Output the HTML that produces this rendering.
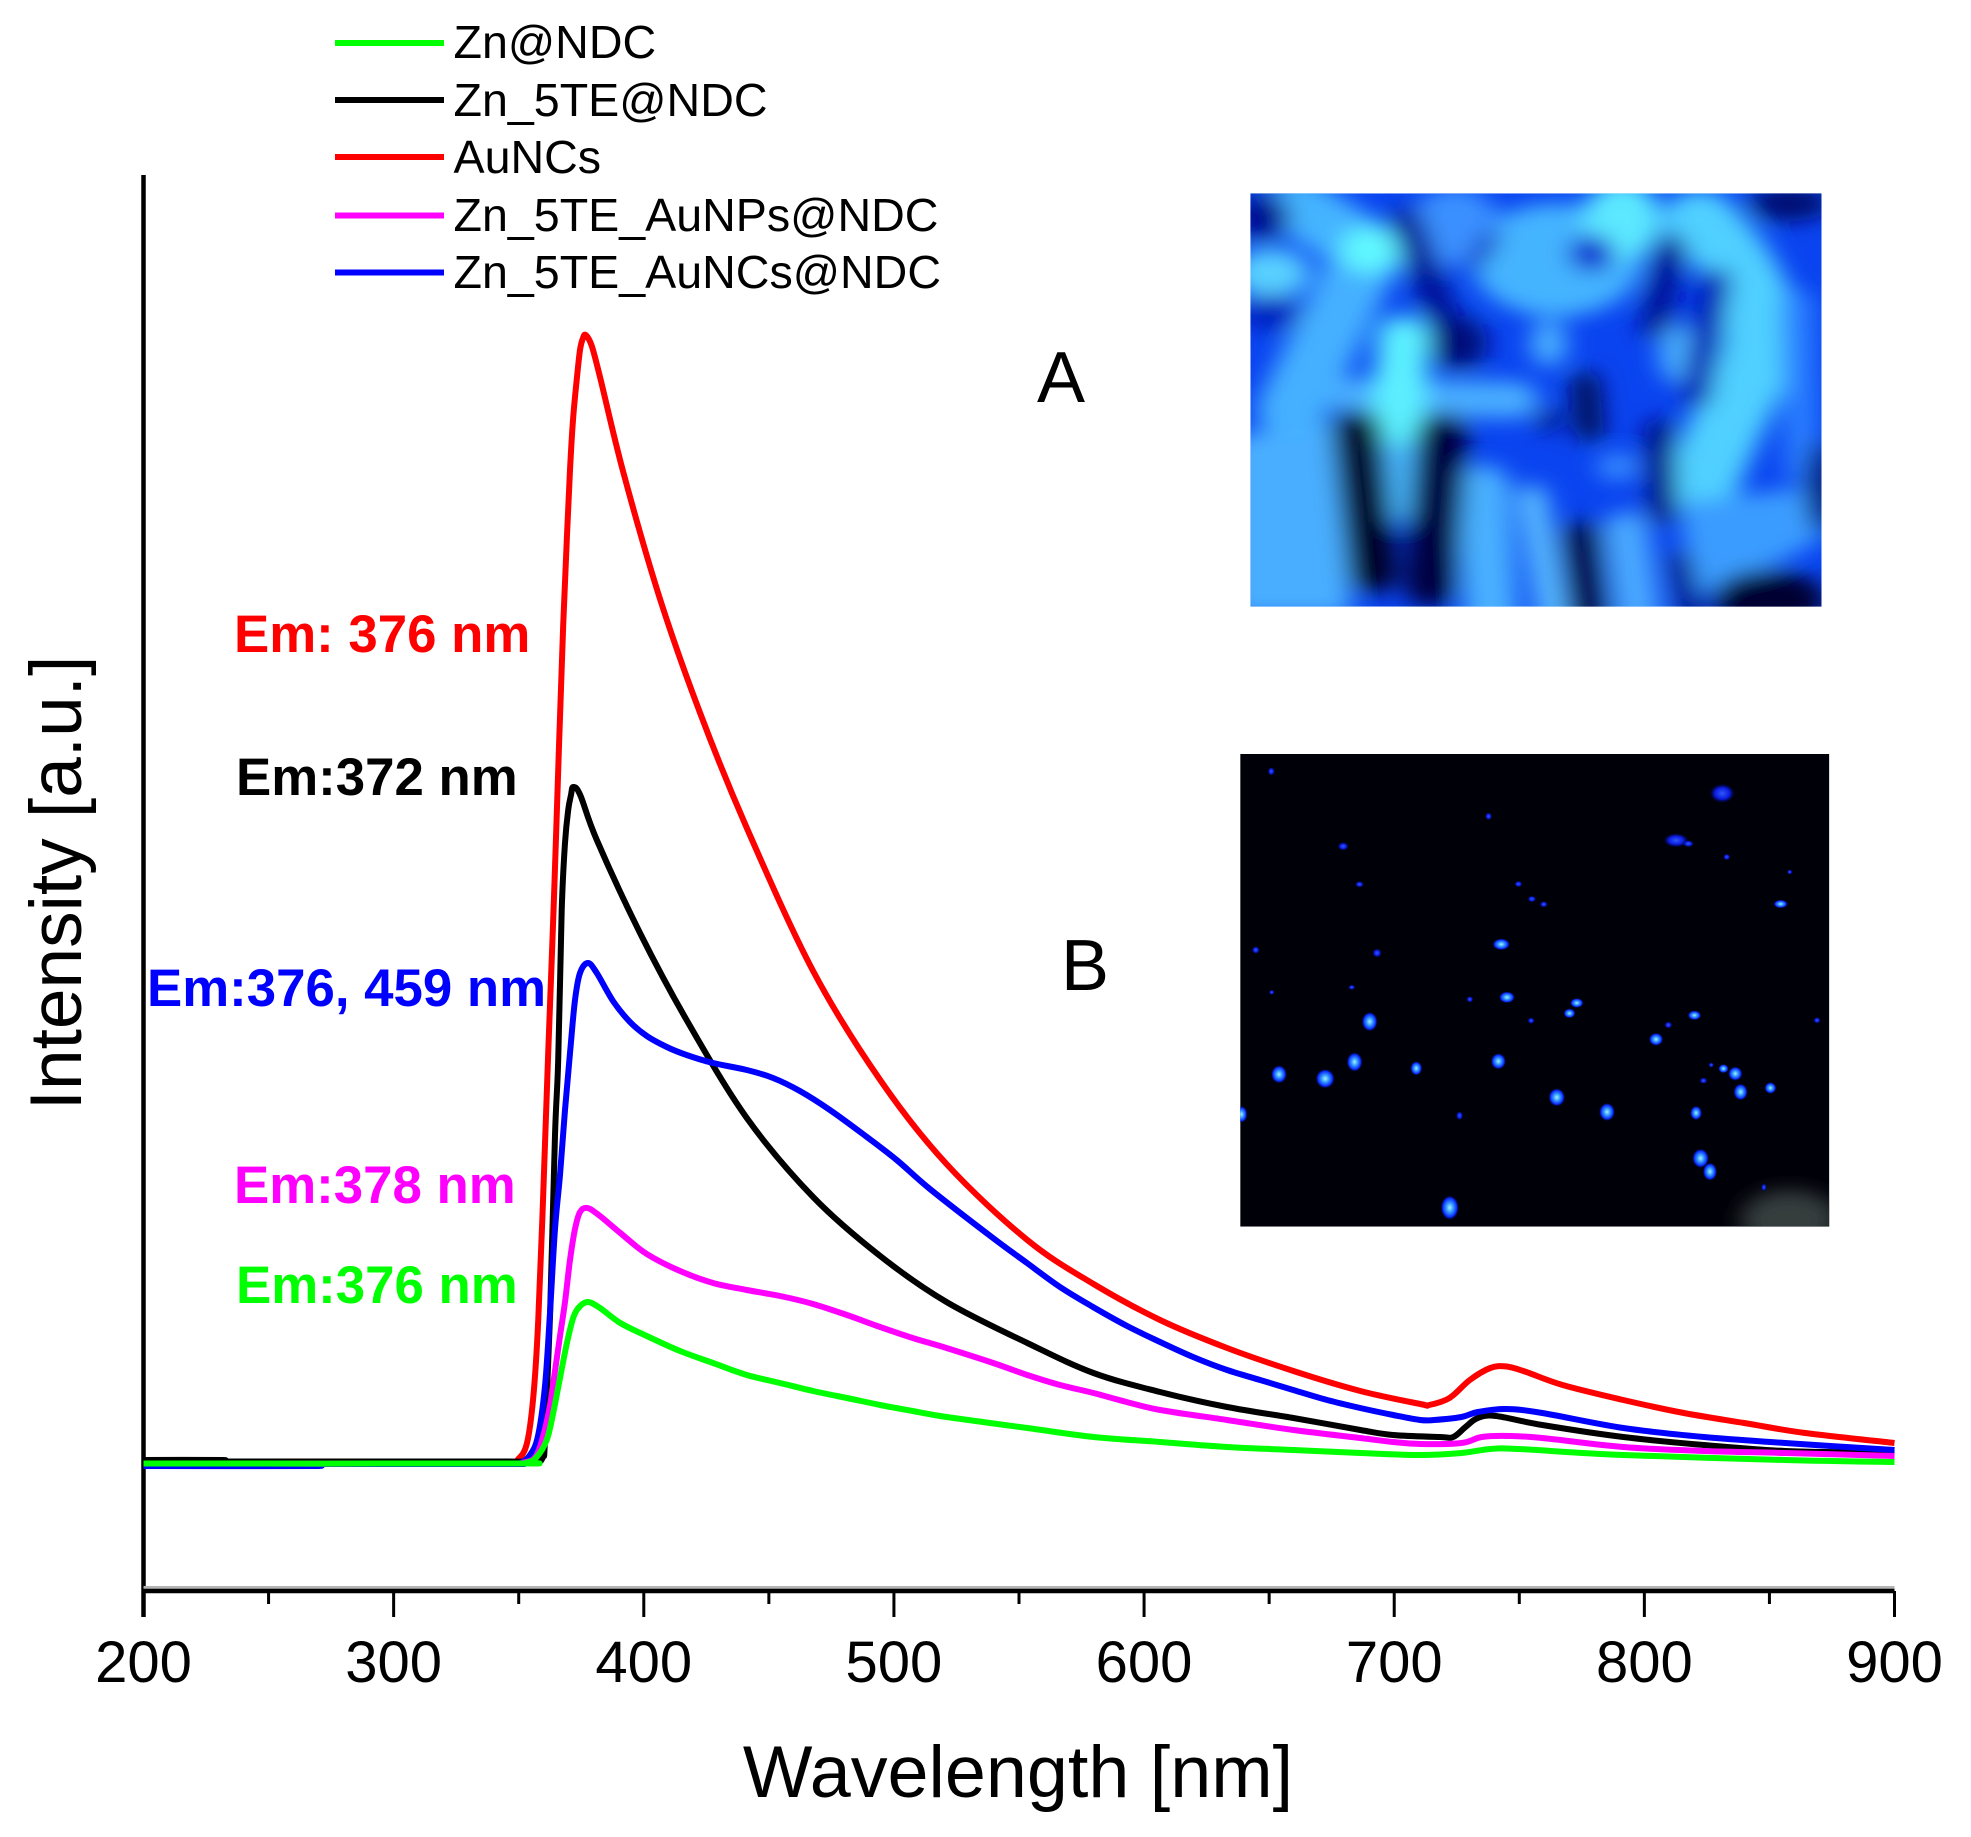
<!DOCTYPE html>
<html lang="en">
<head>
<meta charset="utf-8">
<title>Emission spectra</title>
<style>
html,body{margin:0;padding:0;background:#fff;}
svg{display:block;}
text{font-family:"Liberation Sans",sans-serif;fill:#000;}
.em{font-weight:bold;font-size:52.8px;}
.leg{font-size:46.6px;}
.tick{font-size:58px;text-anchor:middle;}
</style>
</head>
<body>
<svg id="chart" xmlns="http://www.w3.org/2000/svg" width="1971" height="1837" viewBox="0 0 1971 1837">
<defs>
<filter id="blurA" x="-30%" y="-30%" width="160%" height="160%"><feGaussianBlur stdDeviation="30"/></filter>
<filter id="blurB" x="-30%" y="-30%" width="160%" height="160%"><feGaussianBlur stdDeviation="28"/></filter>
<clipPath id="clipA"><rect x="50" y="70" width="1398" height="1240"/></clipPath>
<clipPath id="clipB"><rect x="25" y="42" width="1442" height="1418"/></clipPath>
<radialGradient id="spot"><stop offset="0" stop-color="#a8f0ff"/><stop offset=".35" stop-color="#38a0ff"/><stop offset=".75" stop-color="#0828ff"/><stop offset="1" stop-color="#000030" stop-opacity="0"/></radialGradient>
<radialGradient id="dim"><stop offset="0" stop-color="#3058ff"/><stop offset=".6" stop-color="#0818d8"/><stop offset="1" stop-color="#000030" stop-opacity="0"/></radialGradient>
</defs>
<rect width="1971" height="1837" fill="#fff"/>

<!-- Inset A -->
<g transform="translate(1230 170) scale(.4085 .3333)" clip-path="url(#clipA)">
<rect x="50" y="70" width="1398" height="1240" fill="#0a44f0"/>
<g filter="url(#blurA)" fill="none" stroke-linecap="round">
<polygon points="0,800 250,750 300,1340 0,1340" fill="#48aeff"/>
<path d="M340 240L150 720" stroke="#45b0ff" stroke-width="170"/>
<path d="M170 110L350 250" stroke="#45b4ff" stroke-width="170"/>
<ellipse cx="100" cy="310" rx="95" ry="75" fill="#58d0ff"/>
<ellipse cx="340" cy="240" rx="70" ry="70" fill="#60f8ff"/>
<path d="M300 680L700 690" stroke="#48aeff" stroke-width="110"/>
<ellipse cx="800" cy="270" rx="210" ry="170" fill="#44b4ff"/>
<ellipse cx="960" cy="150" rx="95" ry="120" fill="#5ce8ff"/>
<ellipse cx="550" cy="170" rx="110" ry="120" fill="#3a90ff"/>
<path d="M420 700L410 1000" stroke="#48b8ff" stroke-width="115"/>
<path d="M425 500L410 760" stroke="#5cf0ff" stroke-width="125"/>
<path d="M1150 150Q1350 400 1280 600Q1200 800 1150 950" stroke="#4fd0ff" stroke-width="180"/>
<polygon points="1100,1000 1420,950 1460,1100 1200,1270 1130,1270" fill="#3a9cff"/>
<path d="M1390 400L1400 900" stroke="#2a80ff" stroke-width="80"/>
<ellipse cx="780" cy="520" rx="45" ry="70" fill="#4ab0ff"/>
<ellipse cx="1095" cy="550" rx="45" ry="90" fill="#4ab0ff"/>
<path d="M620 950L640 1340" stroke="#4ab0ff" stroke-width="130"/>
<path d="M740 980L790 1340" stroke="#5cc0ff" stroke-width="70"/>
<path d="M970 1080L1000 1340" stroke="#4aa8ff" stroke-width="110"/>
<ellipse cx="950" cy="890" rx="50" ry="40" fill="#3a90ff"/>
<path d="M310 780L350 1210" stroke="#000028" stroke-width="120"/>
<path d="M520 790L490 1250" stroke="#000440" stroke-width="125"/>
<path d="M430 150L550 530" stroke="#001090" stroke-width="75"/>
<ellipse cx="560" cy="520" rx="70" ry="80" fill="#000c78"/>
<path d="M640 200L600 280" stroke="#0828c0" stroke-width="40"/>
<ellipse cx="885" cy="250" rx="55" ry="55" fill="#0a2ad0"/>
<path d="M1080 230L1040 470" stroke="#001090" stroke-width="70"/>
<path d="M870 640L880 780" stroke="#000858" stroke-width="70"/>
<ellipse cx="780" cy="750" rx="30" ry="35" fill="#001080"/>
<path d="M1050 780L1060 1030" stroke="#001080" stroke-width="70"/>
<path d="M860 1100L880 1340" stroke="#000850" stroke-width="95"/>
<path d="M1100 1170L1130 1340" stroke="#001080" stroke-width="55"/>
<path d="M1190 330L1140 680" stroke="#0018b0" stroke-width="70"/>
<ellipse cx="1370" cy="100" rx="100" ry="55" fill="#000a70"/>
<ellipse cx="1320" cy="1290" rx="140" ry="90" fill="#000030"/>
<ellipse cx="80" cy="140" rx="65" ry="70" fill="#001090"/>
<ellipse cx="1445" cy="950" rx="35" ry="140" fill="#000a70"/>
<ellipse cx="100" cy="430" rx="75" ry="55" fill="#0020c0"/>
</g>
</g>

<!-- Inset B -->
<g transform="translate(1230 740) scale(.4085 .3333)" clip-path="url(#clipB)">
<rect x="25" y="42" width="1442" height="1418" fill="#000008"/>
<ellipse cx="1370" cy="1440" rx="120" ry="90" fill="#343c3e" filter="url(#blurB)"/>
<g fill="url(#spot)">
<ellipse cx="342" cy="845" rx="20" ry="30"/><ellipse cx="305" cy="966" rx="20" ry="30"/><ellipse cx="120" cy="1003" rx="20" ry="28"/>
<ellipse cx="233" cy="1016" rx="24" ry="30"/><ellipse cx="456" cy="985" rx="15" ry="22"/><ellipse cx="657" cy="964" rx="19" ry="25"/>
<ellipse cx="800" cy="1072" rx="21" ry="28"/><ellipse cx="923" cy="1116" rx="20" ry="28"/><ellipse cx="1141" cy="1119" rx="15" ry="22"/>
<ellipse cx="1152" cy="1255" rx="21" ry="30"/><ellipse cx="1175" cy="1295" rx="18" ry="28"/><ellipse cx="538" cy="1403" rx="23" ry="38"/>
<ellipse cx="1250" cy="1056" rx="18" ry="26"/><ellipse cx="1237" cy="1001" rx="18" ry="22"/><ellipse cx="1323" cy="1044" rx="15" ry="18"/>
<ellipse cx="1043" cy="898" rx="18" ry="20"/><ellipse cx="1137" cy="826" rx="17" ry="15"/><ellipse cx="678" cy="772" rx="20" ry="18"/>
<ellipse cx="664" cy="613" rx="22" ry="18"/><ellipse cx="849" cy="789" rx="17" ry="15"/><ellipse cx="831" cy="820" rx="15" ry="15"/>
<ellipse cx="1348" cy="492" rx="18" ry="13"/><ellipse cx="1208" cy="986" rx="13" ry="14"/><ellipse cx="28" cy="1123" rx="15" ry="26"/>
</g>
<g fill="url(#dim)">
<ellipse cx="1205" cy="160" rx="32" ry="30"/><ellipse cx="1092" cy="301" rx="32" ry="22"/><ellipse cx="1122" cy="311" rx="14" ry="11"/>
<ellipse cx="277" cy="319" rx="14" ry="13"/><ellipse cx="101" cy="94" rx="9" ry="13"/><ellipse cx="633" cy="229" rx="9" ry="12"/>
<ellipse cx="317" cy="433" rx="11" ry="10"/><ellipse cx="706" cy="432" rx="10" ry="10"/><ellipse cx="739" cy="477" rx="11" ry="10"/>
<ellipse cx="768" cy="493" rx="10" ry="10"/><ellipse cx="63" cy="630" rx="10" ry="12"/><ellipse cx="360" cy="639" rx="12" ry="14"/>
<ellipse cx="298" cy="742" rx="9" ry="8"/><ellipse cx="587" cy="778" rx="9" ry="10"/><ellipse cx="737" cy="842" rx="9" ry="10"/>
<ellipse cx="562" cy="1127" rx="9" ry="14"/><ellipse cx="1073" cy="855" rx="10" ry="11"/><ellipse cx="1159" cy="1022" rx="10" ry="10"/>
<ellipse cx="1437" cy="841" rx="9" ry="10"/><ellipse cx="1216" cy="351" rx="9" ry="10"/><ellipse cx="1370" cy="396" rx="7" ry="8"/>
<ellipse cx="1307" cy="1342" rx="7" ry="12"/><ellipse cx="102" cy="757" rx="7" ry="8"/><ellipse cx="1178" cy="975" rx="7" ry="8"/>
</g>
</g>

<!-- Emission labels -->
<text class="em" x="234" y="652" style="fill:#ff0000">Em: 376 nm</text>
<text class="em" x="236" y="795" style="fill:#000">Em:372 nm</text>
<text class="em" x="147" y="1006" style="fill:#0000ff">Em:376, 459 nm</text>
<text class="em" x="234" y="1203" style="fill:#ff00ff">Em:378 nm</text>
<text class="em" x="236" y="1303" style="fill:#00ff00">Em:376 nm</text>

<text x="1037" y="402" font-size="72">A</text>
<text x="1061" y="990" font-size="72">B</text>

<!-- Legend -->
<g>
<line x1="335" y1="43" x2="444" y2="43" stroke="#00ff00" stroke-width="6"/>
<text class="leg" x="453.500" y="58">Zn@NDC</text>
<line x1="335" y1="100" x2="444" y2="100" stroke="#000" stroke-width="6"/>
<text class="leg" x="453.500" y="116">Zn_5TE@NDC</text>
<line x1="335" y1="157" x2="444" y2="157" stroke="#ff0000" stroke-width="6"/>
<text class="leg" x="453.500" y="173">AuNCs</text>
<line x1="335" y1="215.500" x2="444" y2="215.500" stroke="#ff00ff" stroke-width="6"/>
<text class="leg" x="453.500" y="231">Zn_5TE_AuNPs@NDC</text>
<line x1="335" y1="272.500" x2="444" y2="272.500" stroke="#0000ff" stroke-width="6"/>
<text class="leg" x="453.500" y="288">Zn_5TE_AuNCs@NDC</text>
</g>

<g id="axes"></g>
<g id="series"></g>

<text x="1018" y="1797" font-size="73.7" text-anchor="middle">Wavelength [nm]</text>
<text transform="translate(81 883) rotate(-90)" font-size="73" text-anchor="middle">Intensity [a.u.]</text>
</svg>

<script>
const majorTicks = [200, 300, 400, 500, 600, 700, 800, 900];
const minorTicks = [250, 350, 450, 550, 650, 750, 850];

const redWavelengths = [200,300,345,349.8,353.3,355.8,357.8,359.8,361.8,364.1,366.2,367.8,369.3,370.5,371.7,373.1,374.5,375.7,376.8,379.2,382.5,391.9,406.5,422.5,441.2,467.7,494.5,521,553.3,579.8,606.4,633.2,659.7,686.5,710.4,714,722.1,730.2,738.4,745,752.8,767.3,791.6,815.8,839.9,864.3,900];
const redIntensity = [0.3,0.3,0.3,0.6,2.2,6.7,14.4,27,41.2,56.8,72.5,84,93,99.5,104.5,108.3,111.5,112.7,113,111.9,108.8,99.2,86.6,75.2,63.7,49.4,38.5,30.1,22.5,18.1,14.5,11.7,9.4,7.4,6.1,6,6.7,8.5,9.7,9.85,9.3,8,6.5,5.2,4.2,3.2,2.2];

const blackWavelengths = [200,232,233,345,356.5,359.7,360.5,362.5,364.5,365.8,367.2,368.5,369.8,370.9,371.8,374.6,381.2,398.5,417.1,441.2,467.7,494.5,521,553.3,579.8,606.4,633.2,659.7,686.5,699.5,718.3,723.6,728.5,733.4,740.7,759.2,791.6,823.8,856.3,900];
const blackIntensity = [0.5,0.5,0.35,0.35,0.2,0.8,2.5,14.8,33,40.5,55.5,62.2,65.5,67,67.8,67,62.5,53.2,44.5,34.7,26.8,20.9,16.3,12.2,9.2,7.3,5.8,4.7,3.5,3,2.8,2.8,3.8,4.7,4.9,4,2.8,2,1.4,1.2];

const blueWavelengths = [200,268,269,345,350.5,354.5,357.7,360.5,362.5,364.5,366.5,368.5,370.5,372.5,374.5,377.7,381.2,387.7,394.5,401.2,409.2,417.1,427.7,441.2,451.7,462.4,474.4,487.6,501.1,514.4,539.6,553.2,566.4,579.6,593.2,606.4,619.6,633.2,646.4,659.6,673.2,686.4,699.6,710.4,716,726.9,733.4,744.7,759.2,791.6,823.8,856.3,900];
const blueIntensity = [-0.1,-0.1,0.1,0.1,0.2,1,2.9,7.9,15.2,23.6,29,35.5,41.2,46.5,49.2,50.2,49.2,46.4,44.3,42.9,41.8,41,40.2,39.5,38.7,37.4,35.5,33.1,30.5,27.6,22.7,20.2,17.8,15.8,13.9,12.3,10.8,9.5,8.5,7.5,6.5,5.7,5,4.5,4.5,4.8,5.3,5.6,5.2,3.7,2.8,2.2,1.5];

const magentaWavelengths = [200,345,351.8,356.6,359.8,362.5,364.5,366.5,368.5,370.5,372.5,374.5,377.5,382.5,390.6,401.2,414.5,427.7,441.2,454.5,467.7,481.2,494.5,507.5,521,539.7,553.3,566.4,579.8,593,606.4,633.2,659.7,686.5,699.5,710.6,726.9,735,746.2,759.2,791.6,823.8,856.3,900];
const magentaIntensity = [0.15,0.15,0.25,0.8,2.9,6,9.4,12.9,16.3,20.5,23.6,25.3,25.7,24.9,23.2,21.1,19.4,18.2,17.5,16.9,16.1,15,13.8,12.7,11.7,10.2,9,8,7.2,6.3,5.5,4.5,3.5,2.7,2.3,2.1,2.2,2.8,2.9,2.7,1.8,1.4,1.2,0.9];

const greenWavelengths = [200,345,353.3,357.2,361.2,363.8,366.5,369.2,371.9,374.6,377.8,382.5,390.6,401.2,414.5,427.7,441.2,454.5,467.7,481.2,494.5,507.5,521,553.3,579.8,606.4,633.2,659.7,686.5,710.6,726.9,738.4,749.6,791.6,856.3,900];
const greenIntensity = [0.15,0.15,0.25,0.8,2.5,5.2,8.7,12.1,14.8,15.9,16.3,15.7,14.2,12.9,11.4,10.2,9,8.2,7.4,6.7,6,5.4,4.8,3.7,2.8,2.3,1.8,1.5,1.2,1,1.2,1.6,1.6,1,0.5,0.3];

const seriesLabels = ['AuNCs', 'Zn_5TE@NDC', 'Zn_5TE_AuNCs@NDC', 'Zn_5TE_AuNPs@NDC', 'Zn@NDC'];

const SVGNS = 'http://www.w3.org/2000/svg';
const AXIS_LEFT = 143.5, AXIS_RIGHT = 1894.5, AXIS_Y = 1591, AXIS_TOP = 175;
function xScale(nm) { return AXIS_LEFT + (nm - 200) * (AXIS_RIGHT - AXIS_LEFT) / 700; }
function yScale(v) { return 1465 - v * 10; }

function smoothPath(xs, ys) {
  const p = xs.map((x, i) => [xScale(x), yScale(ys[i])]);
  let d = 'M' + p[0][0].toFixed(1) + ' ' + p[0][1].toFixed(1);
  for (let i = 0; i < p.length - 1; i++) {
    const a = p[Math.max(i - 1, 0)], b = p[i], c = p[i + 1], e = p[Math.min(i + 2, p.length - 1)];
    const c1x = b[0] + (c[0] - a[0]) / 6, c1y = b[1] + (c[1] - a[1]) / 6;
    const c2x = c[0] - (e[0] - b[0]) / 6, c2y = c[1] - (e[1] - b[1]) / 6;
    d += 'C' + c1x.toFixed(1) + ' ' + c1y.toFixed(1) + ' ' + c2x.toFixed(1) + ' ' + c2y.toFixed(1) + ' ' + c[0].toFixed(1) + ' ' + c[1].toFixed(1);
  }
  return d;
}

const axesGroup = document.getElementById('axes');
const seriesGroup = document.getElementById('series');

function drawLine(x1, y1, x2, y2, w, color) {
  const l = document.createElementNS(SVGNS, 'line');
  l.setAttribute('x1', x1); l.setAttribute('y1', y1);
  l.setAttribute('x2', x2); l.setAttribute('y2', y2);
  l.setAttribute('stroke', color); l.setAttribute('stroke-width', w);
  axesGroup.appendChild(l);
  return l;
}

const yAxisLine = drawLine(AXIS_LEFT, AXIS_TOP, AXIS_LEFT, 1617, 4.5, '#000');



const xAxisShadow = drawLine(AXIS_LEFT, AXIS_Y - 3.5, AXIS_RIGHT, AXIS_Y - 3.5, 3, '#b4b4b4');



const xAxisLine = drawLine(AXIS_LEFT, AXIS_Y, AXIS_RIGHT, AXIS_Y, 4.5, '#000');



majorTicks.forEach(function (t) {
  const tick = drawLine(xScale(t), AXIS_Y, xScale(t), 1617, 3, '#000');
  
  
  const label = document.createElementNS(SVGNS, 'text');
  label.setAttribute('class', 'tick');
  label.setAttribute('x', xScale(t));
  label.setAttribute('y', 1682);
  label.textContent = String(t);
  
  
  axesGroup.appendChild(label);
});

minorTicks.forEach(function (t) {
  const tick = drawLine(xScale(t), AXIS_Y, xScale(t), 1604, 3, '#000');
  
  
});

function drawSeries(xs, ys, color, name) {
  const path = document.createElementNS(SVGNS, 'path');
  path.setAttribute('d', smoothPath(xs, ys));
  path.setAttribute('fill', 'none');
  path.setAttribute('stroke', color);
  path.setAttribute('stroke-width', 6);
  path.setAttribute('stroke-linejoin', 'round');
  
  
  path.setAttribute('aria-label', seriesLabels[seriesGroup.childElementCount]);
  seriesGroup.appendChild(path);
}

drawSeries(redWavelengths, redIntensity, '#ff0000', 'series-auncs');
drawSeries(blackWavelengths, blackIntensity, '#000000', 'series-zn-5te');
drawSeries(blueWavelengths, blueIntensity, '#0000ff', 'series-zn-5te-auncs');
drawSeries(magentaWavelengths, magentaIntensity, '#ff00ff', 'series-zn-5te-aunps');
drawSeries(greenWavelengths, greenIntensity, '#00ff00', 'series-zn-ndc');
</script>
</body>
</html>
